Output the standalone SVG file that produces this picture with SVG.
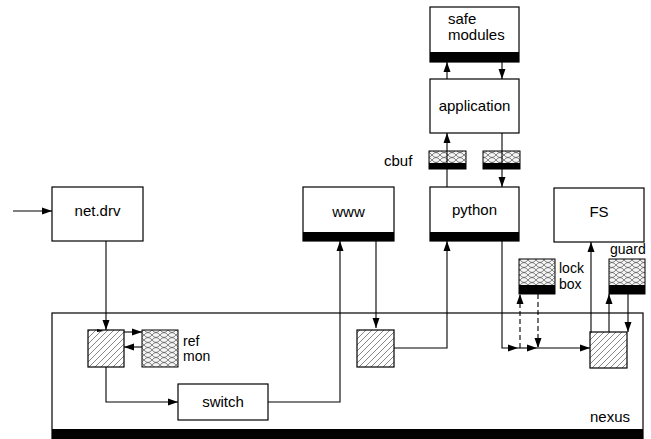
<svg xmlns="http://www.w3.org/2000/svg" width="651" height="439" viewBox="0 0 651 439">
<defs>
<pattern id="hatch" patternUnits="userSpaceOnUse" width="6" height="6">
<path d="M-1,7 L7,-1 M-4,4 L4,-4 M2,10 L10,2" stroke="#555" stroke-width="0.7"/>
</pattern>
<pattern id="xhatch" patternUnits="userSpaceOnUse" width="8" height="5">
<rect width="8" height="5" fill="#f4f4f4"/>
<path d="M0,0 Q4,5 8,0 M0,5 Q4,0 8,5" fill="none" stroke="#555" stroke-width="0.7"/>
</pattern>
<marker id="arr" viewBox="0 0 10 10" refX="10" refY="5" markerWidth="10" markerHeight="10" markerUnits="userSpaceOnUse" orient="auto">
<path d="M0,1.5 L10,5 L0,8.5 Z" fill="#000"/>
</marker>
</defs>
<style>
.box{fill:#fff;stroke:#000;stroke-width:1.2}
.bar{fill:#000}
.hb{fill:url(#hatch);stroke:#000;stroke-width:1.2}
.xb{fill:url(#xhatch);stroke:#000;stroke-width:1}
.ln{fill:none;stroke:#000;stroke-width:1.1}
.ar{fill:none;stroke:#000;stroke-width:1.1;marker-end:url(#arr)}
.da{fill:none;stroke:#000;stroke-width:1.1;stroke-dasharray:5,3;marker-end:url(#arr)}
text{font-family:"Liberation Sans",Arial,sans-serif;font-size:15px;fill:#000}
.c{text-anchor:middle}
.s{font-size:14px}
</style>

<g id="nexus">
<rect x="52" y="313" width="591" height="126" class="box"/>
<rect x="52" y="429" width="591" height="10" class="bar"/>
<text x="630" y="422" text-anchor="end">nexus</text>
</g>

<g id="safe-modules">
<rect x="430" y="7" width="89" height="55" class="box"/>
<rect x="430" y="52" width="89" height="10" class="bar"/>
<text x="448" y="24">safe</text>
<text x="448" y="40">modules</text>
</g>

<g id="application">
<rect x="430" y="79" width="89" height="54" class="box"/>
<text x="474.5" y="111" class="c">application</text>
</g>

<g id="cbuf-left">
<rect x="429" y="151" width="37" height="18" class="xb"/>
<rect x="429" y="163" width="37" height="6" class="bar"/>
<text x="384" y="166">cbuf</text>
</g>

<g id="cbuf-right">
<rect x="483" y="151" width="37" height="18" class="xb"/>
<rect x="483" y="163" width="37" height="6" class="bar"/>
</g>

<g id="python">
<rect x="430" y="187" width="89" height="54" class="box"/>
<rect x="430" y="232" width="89" height="9" class="bar"/>
<text x="474.5" y="215" class="c">python</text>
</g>

<g id="www">
<rect x="303" y="187" width="91" height="54" class="box"/>
<rect x="303" y="232" width="91" height="9" class="bar"/>
<text x="348.5" y="217" class="c">www</text>
</g>

<g id="net-drv">
<rect x="52" y="187" width="91" height="54" class="box"/>
<text x="97.5" y="216" class="c">net.drv</text>
</g>

<g id="fs">
<rect x="554" y="188" width="90" height="54" class="box"/>
<text x="599" y="217" class="c">FS</text>
</g>

<g id="lock-box">
<rect x="519" y="259" width="36" height="35" class="xb"/>
<rect x="519" y="285" width="36" height="9" class="bar"/>
<text x="559" y="273" class="s">lock</text>
<text x="559" y="289" class="s">box</text>
</g>

<g id="guard">
<rect x="609" y="259" width="36" height="35" class="xb"/>
<rect x="609" y="285" width="36" height="9" class="bar"/>
<text x="610" y="254" class="s">guard</text>
</g>

<g id="switch">
<rect x="178" y="384" width="90" height="36" class="box"/>
<text x="223" y="407" class="c">switch</text>
</g>

<g id="hatch-left">
<rect x="88" y="330" width="36" height="37" class="hb"/>
</g>

<g id="ref-mon">
<rect x="142" y="330" width="36" height="37" class="xb"/>
<text x="183" y="346" class="s">ref</text>
<text x="183" y="361" class="s">mon</text>
</g>

<g id="hatch-mid">
<rect x="357" y="330" width="37" height="37" class="hb"/>
</g>

<g id="hatch-right">
<rect x="590" y="332" width="37" height="36" class="hb"/>
</g>

<g id="connectors">
<path d="M447,79 L447,62" class="ar"/>
<path d="M502,62 L502,79" class="ar"/>
<path d="M447,187 L447,133" class="ar"/>
<path d="M502,133 L502,187" class="ar"/>
<path d="M13,211 L52,211" class="ar"/>
<path d="M106,241 L106,330" class="ar"/>
<path d="M97,329 L104,331 L97,332 Z" fill="#000"/>
<path d="M124,332 L142,332" class="ar"/>
<path d="M142,347 L124,347" class="ar"/>
<path d="M106,367 L106,402 L178,402" class="ar"/>
<path d="M268,402 L340,402 L340,241" class="ar"/>
<path d="M376,241 L376,328" class="ar"/>
<path d="M394,348 L447,348 L447,241" class="ar"/>
<path d="M502,241 L502,348 L518,348" class="ar"/>
<path d="M518,348 L537,348" class="ar"/>
<path d="M537,348 L590,348" class="ar"/>
<path d="M520,348 L520,294" class="da"/>
<path d="M538,294 L538,348" class="da"/>
<path d="M591,332 L591,242" class="ar"/>
<path d="M609,332 L609,294" class="ar"/>
<path d="M628,294 L628,332" class="ar"/>
</g>
</svg>
